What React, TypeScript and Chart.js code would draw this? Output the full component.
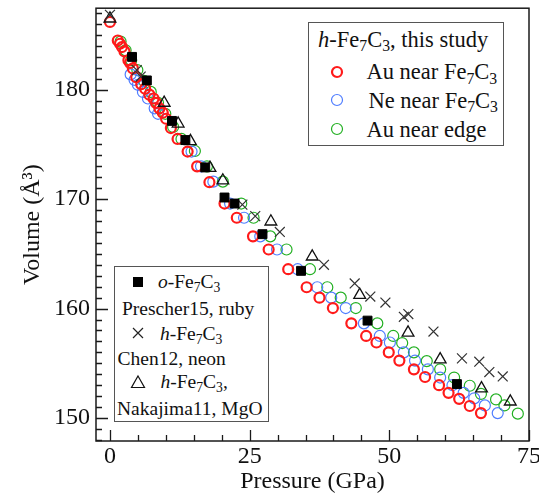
import React, { useEffect, useRef } from 'react';
import { Chart, registerables } from 'chart.js';

Chart.register(...registerables);

const FONT = '"Liberation Serif", "Times New Roman", Times, serif';
const INK = '#111111';

// ---- axis tick labels ----
const xTickValues = [0, 25, 50, 75];
const yTickValues = [150, 160, 170, 180];
const xMinorStep = 5;
const yMinorStep = 1;

// ---- h-Fe7C3, this study: Au near Fe7C3 (red) ----
const auNearP = [0, 1.4, 1.8, 2.15, 2.6, 3.3, 3.6, 4.1, 4.7, 5.6, 6.3, 7.05, 7.8, 8.25, 8.85, 9.45, 10.05, 10.9, 12.1, 13.9, 15.6, 17.8, 20.5, 22.7, 25.6, 28.4, 31.9, 35.2, 37.5, 39.9, 43.2, 45.85, 47.7, 49.9, 51.8, 54.4, 56.4, 58.9, 60.6, 62.5, 64.4, 66.4];
const auNearV = [186.2, 184.5, 184.2, 183.9, 183.5, 182.7, 182.45, 181.95, 181.15, 180.5, 180.1, 179.55, 179.2, 178.8, 178.3, 177.9, 177.35, 176.5, 175.5, 174.35, 173.0, 171.55, 169.6, 168.3, 166.6, 165.4, 163.6, 161.95, 161.0, 160.05, 158.65, 157.5, 156.9, 156.0, 155.25, 154.45, 153.75, 153.0, 152.3, 151.75, 151.1, 150.45];

// ---- Ne near Fe7C3 (blue) ----
const neNearP = [3.7, 4.4, 5.0, 5.9, 6.8, 8.0, 8.6, 14.6, 16.3, 18.5, 21.5, 24.0, 26.9, 29.9, 33.6, 37.1, 39.6, 42.2, 45.45, 48.3, 50.1, 52.6, 54.6, 56.9, 59.1, 61.3, 63.3, 65.2, 67.1, 69.4];
const neNearV = [181.4, 180.9, 180.45, 179.8, 179.2, 178.3, 177.8, 174.35, 173.0, 171.6, 169.6, 168.3, 166.6, 165.4, 163.6, 161.95, 161.0, 160.05, 158.65, 157.5, 156.9, 156.0, 155.25, 154.45, 153.7, 153.0, 152.3, 151.8, 151.15, 150.45];

// ---- Au near edge (green) ----
const auEdgeP = [1.9, 2.8, 3.8, 4.9, 6.1, 7.3, 8.6, 9.9, 11.3, 12.8, 15.2, 17.35, 20.2, 23.5, 25.7, 28.7, 31.6, 35.8, 38.9, 41.3, 44.0, 47.85, 50.7, 52.3, 54.4, 56.7, 59.1, 61.6, 64.4, 66.4, 69.1, 70.6, 73.0];
const auEdgeV = [184.4, 183.6, 182.7, 181.8, 180.8, 179.8, 178.8, 177.8, 176.6, 175.5, 174.4, 173.0, 171.6, 169.6, 168.3, 166.6, 165.4, 163.6, 161.95, 161.0, 160.05, 158.65, 157.5, 156.85, 156.0, 155.2, 154.45, 153.7, 152.95, 152.2, 151.7, 151.15, 150.4];

// ---- o-Fe7C3, Prescher15, ruby (filled squares) ----
const prescherP = [3.95, 6.6, 11.1, 13.5, 17.05, 20.5, 22.3, 27.3, 34.2, 46.1, 62.1];
const prescherV = [183.0, 180.85, 177.15, 175.4, 172.9, 170.15, 169.6, 166.8, 163.45, 158.9, 153.1];

// ---- h-Fe7C3, Chen12, neon (crosses) ----
const chenP = [0, 4.8, 5.5, 23.7, 26.0, 30.4, 38.3, 43.8, 46.6, 49.3, 52.6, 53.4, 57.9, 63.0, 66.1, 67.9, 70.3];
const chenV = [186.85, 181.8, 181.2, 169.5, 168.45, 167.0, 164.0, 162.3, 161.1, 160.55, 159.25, 159.5, 157.9, 155.45, 155.15, 154.2, 153.8];

// ---- h-Fe7C3, Nakajima11, MgO (open triangles) ----
const nakajimaP = [0, 9.7, 12.2, 14.4, 17.9, 20.2, 28.8, 36.2, 44.7, 53.35, 59.1, 66.5, 71.65];
const nakajimaV = [186.5, 178.8, 176.9, 175.3, 172.85, 171.7, 167.95, 164.75, 161.25, 157.8, 155.35, 152.7, 151.5];

const RED = '#ff1a1a';
const BLUE = '#4f7dff';
const GREEN = '#22b022';

const toXY = (p: number[], v: number[]) => p.map((x, i) => ({ x, y: v[i] }));

const frameTicksPlugin = {
  id: 'frameTicks',
  afterDraw(chart: any) {
    const { ctx, chartArea: a, scales } = chart;
    const xs = scales.x;
    const ys = scales.y;
    ctx.save();
    ctx.strokeStyle = '#1a1a1a';
    ctx.lineWidth = 1.5;
    ctx.strokeRect(a.left, a.top, a.right - a.left, a.bottom - a.top);
    ctx.lineWidth = 1.3;
    ctx.beginPath();
    const x0 = Math.ceil(xs.min / xMinorStep) * xMinorStep;
    for (let v = x0; v <= xs.max + 1e-9; v += xMinorStep) {
      const px = Math.round(xs.getPixelForValue(v)) + 0.5;
      const major = xTickValues.includes(v);
      ctx.moveTo(px, a.bottom);
      ctx.lineTo(px, a.bottom - (major ? 11 : 6));
    }
    const y0 = Math.ceil(ys.min / yMinorStep) * yMinorStep;
    for (let v = y0; v <= ys.max + 1e-9; v += yMinorStep) {
      const py = Math.round(ys.getPixelForValue(v)) + 0.5;
      const major = yTickValues.includes(v);
      ctx.moveTo(a.left, py);
      ctx.lineTo(a.left + (major ? 12 : 6), py);
    }
    ctx.stroke();
    ctx.restore();
  },
};

const zeroPad = (s: any) => {
  s.paddingTop = 0;
  s.paddingBottom = 0;
  s.paddingLeft = 0;
  s.paddingRight = 0;
};

const Sub = ({ t }: { t: string }) => (
  <span style={{ fontSize: '0.7em', position: 'relative', top: '0.3em' }}>{t}</span>
);
const FeC = () => (
  <>
    Fe<Sub t="7" />C<Sub t="3" />
  </>
);

const Line = ({ x, cy, size, children }: { x: number; cy: number; size: number; children: any }) => (
  <div
    style={{
      position: 'absolute',
      left: x,
      top: cy - size * 0.6,
      lineHeight: `${size * 1.2}px`,
      fontSize: size,
      fontFamily: FONT,
      color: INK,
      whiteSpace: 'nowrap',
    }}
  >
    {children}
  </div>
);

const Marker = ({ cx, cy, size, children }: { cx: number; cy: number; size: number; children: any }) => (
  <svg
    width={size}
    height={size}
    style={{ position: 'absolute', left: cx - size / 2, top: cy - size / 2, overflow: 'visible' }}
  >
    {children}
  </svg>
);

export default function App() {
  const canvasRef = useRef<HTMLCanvasElement | null>(null);

  useEffect(() => {
    if (!canvasRef.current) return;
    const chart = new Chart(canvasRef.current, {
      type: 'scatter',
      data: {
        datasets: [
          {
            label: 'o-Fe7C3 Prescher15',
            data: toXY(prescherP, prescherV),
            pointStyle: 'rect',
            pointRadius: 6.3,
            backgroundColor: '#000',
            borderColor: '#000',
            borderWidth: 1,
          },
          {
            label: 'h-Fe7C3 Chen12',
            data: toXY(chenP, chenV),
            pointStyle: 'crossRot',
            pointRadius: 7,
            borderColor: '#333',
            borderWidth: 1.2,
            backgroundColor: 'rgba(0,0,0,0)',
          },
          {
            label: 'h-Fe7C3 Nakajima11',
            data: toXY(nakajimaP, nakajimaV),
            pointStyle: 'triangle',
            pointRadius: 6.8,
            borderColor: '#111',
            borderWidth: 1.3,
            backgroundColor: 'rgba(0,0,0,0)',
          },
          {
            label: 'Au near Fe7C3',
            data: toXY(auNearP, auNearV),
            pointStyle: 'circle',
            pointRadius: 5,
            borderColor: RED,
            borderWidth: 2.2,
            backgroundColor: 'rgba(0,0,0,0)',
          },
          {
            label: 'Ne near Fe7C3',
            data: toXY(neNearP, neNearV),
            pointStyle: 'circle',
            pointRadius: 5.5,
            borderColor: BLUE,
            borderWidth: 1.2,
            backgroundColor: 'rgba(0,0,0,0)',
          },
          {
            label: 'Au near edge',
            data: toXY(auEdgeP, auEdgeV),
            pointStyle: 'circle',
            pointRadius: 5.5,
            borderColor: GREEN,
            borderWidth: 1.2,
            backgroundColor: 'rgba(0,0,0,0)',
          },
        ],
      },
      options: {
        responsive: false,
        animation: false,
        layout: { padding: { left: 0, top: 8, right: 10, bottom: 0 } },
        plugins: { legend: { display: false }, tooltip: { enabled: false } },
        scales: {
          x: {
            type: 'linear',
            min: -2.5,
            max: 75,
            afterBuildTicks: (s: any) => {
              s.ticks = xTickValues.map((v) => ({ value: v }));
            },
            afterFit: (s: any) => {
              s.height = 56;
              zeroPad(s);
            },
            grid: { display: false, drawTicks: false },
            border: { display: false },
            ticks: {
              padding: 1,
              color: INK,
              font: { family: FONT, size: 24 },
              maxRotation: 0,
              autoSkip: false,
              callback: (v: any) => String(v),
            },
            title: {
              display: true,
              text: 'Pressure (GPa)',
              color: INK,
              font: { family: FONT, size: 24 },
              padding: { top: 0, bottom: 1 },
            },
          },
          y: {
            type: 'linear',
            min: 147.9,
            max: 187.45,
            afterBuildTicks: (s: any) => {
              s.ticks = yTickValues.map((v) => ({ value: v }));
            },
            afterFit: (s: any) => {
              s.width = 96;
              zeroPad(s);
            },
            grid: { display: false, drawTicks: false },
            border: { display: false },
            ticks: {
              padding: 6,
              color: INK,
              font: { family: FONT, size: 24 },
              autoSkip: false,
              callback: (v: any) => String(v),
            },
            title: {
              display: true,
              text: 'Volume (Å³)',
              color: INK,
              font: { family: FONT, size: 24 },
              padding: { top: 18, bottom: 0 },
            },
          },
        },
      },
      plugins: [frameTicksPlugin],
    } as any);
    return () => chart.destroy();
  }, []);

  return (
    <div style={{ position: 'absolute', left: 0, top: 0, width: 539, height: 497, background: '#fff' }}>
      <canvas ref={canvasRef} width={539} height={497} style={{ display: 'block', width: 539, height: 497 }} />

      {/* Top-right legend */}
      <div
        style={{
          position: 'absolute',
          left: 308,
          top: 22,
          width: 196,
          height: 124,
          border: '1px solid #555',
          background: '#fff',
          boxSizing: 'border-box',
        }}
      />
      <Line x={318} cy={39} size={22.5}>
        <i>h</i>-<FeC />, this study
      </Line>
      <Marker cx={336.7} cy={71.7} size={12}>
        <circle cx={6} cy={6} r={5} fill="none" stroke={RED} strokeWidth={2.2} />
      </Marker>
      <Line x={366.5} cy={71.7} size={22.5}>
        Au near <FeC />
      </Line>
      <Marker cx={336.7} cy={100} size={12}>
        <circle cx={6} cy={6} r={5.5} fill="none" stroke={BLUE} strokeWidth={1.2} />
      </Marker>
      <Line x={368.5} cy={100} size={22.5}>
        Ne near <FeC />
      </Line>
      <Marker cx={336.7} cy={129} size={12}>
        <circle cx={6} cy={6} r={5.5} fill="none" stroke={GREEN} strokeWidth={1.2} />
      </Marker>
      <Line x={366.5} cy={129} size={22.5}>
        Au near edge
      </Line>

      {/* Bottom-left legend */}
      <div
        style={{
          position: 'absolute',
          left: 114,
          top: 266,
          width: 155,
          height: 156,
          border: '1px solid #555',
          background: '#fff',
          boxSizing: 'border-box',
        }}
      />
      <Marker cx={137.7} cy={281.7} size={10}>
        <rect x={0} y={0} width={10} height={10} fill="#000" />
      </Marker>
      <Line x={158} cy={281.7} size={19.5}>
        <i>o</i>-<FeC />
      </Line>
      <Line x={122} cy={308.3} size={19.5}>
        Prescher15, ruby
      </Line>
      <Marker cx={138.3} cy={333.3} size={12}>
        <path d="M1 1 L11 11 M11 1 L1 11" stroke="#222" strokeWidth={1.2} fill="none" />
      </Marker>
      <Line x={160} cy={333.3} size={19.5}>
        <i>h</i>-<FeC />
      </Line>
      <Line x={117.5} cy={358.3} size={19.5}>
        Chen12, neon
      </Line>
      <Marker cx={138.3} cy={381.7} size={14}>
        <path d="M7 1 L13.5 12.5 L0.5 12.5 Z" stroke="#111" strokeWidth={1.2} fill="none" />
      </Marker>
      <Line x={160.5} cy={381.7} size={19.5}>
        <i>h</i>-<FeC />,
      </Line>
      <Line x={117} cy={408.3} size={19.5}>
        Nakajima11, MgO
      </Line>
    </div>
  );
}
